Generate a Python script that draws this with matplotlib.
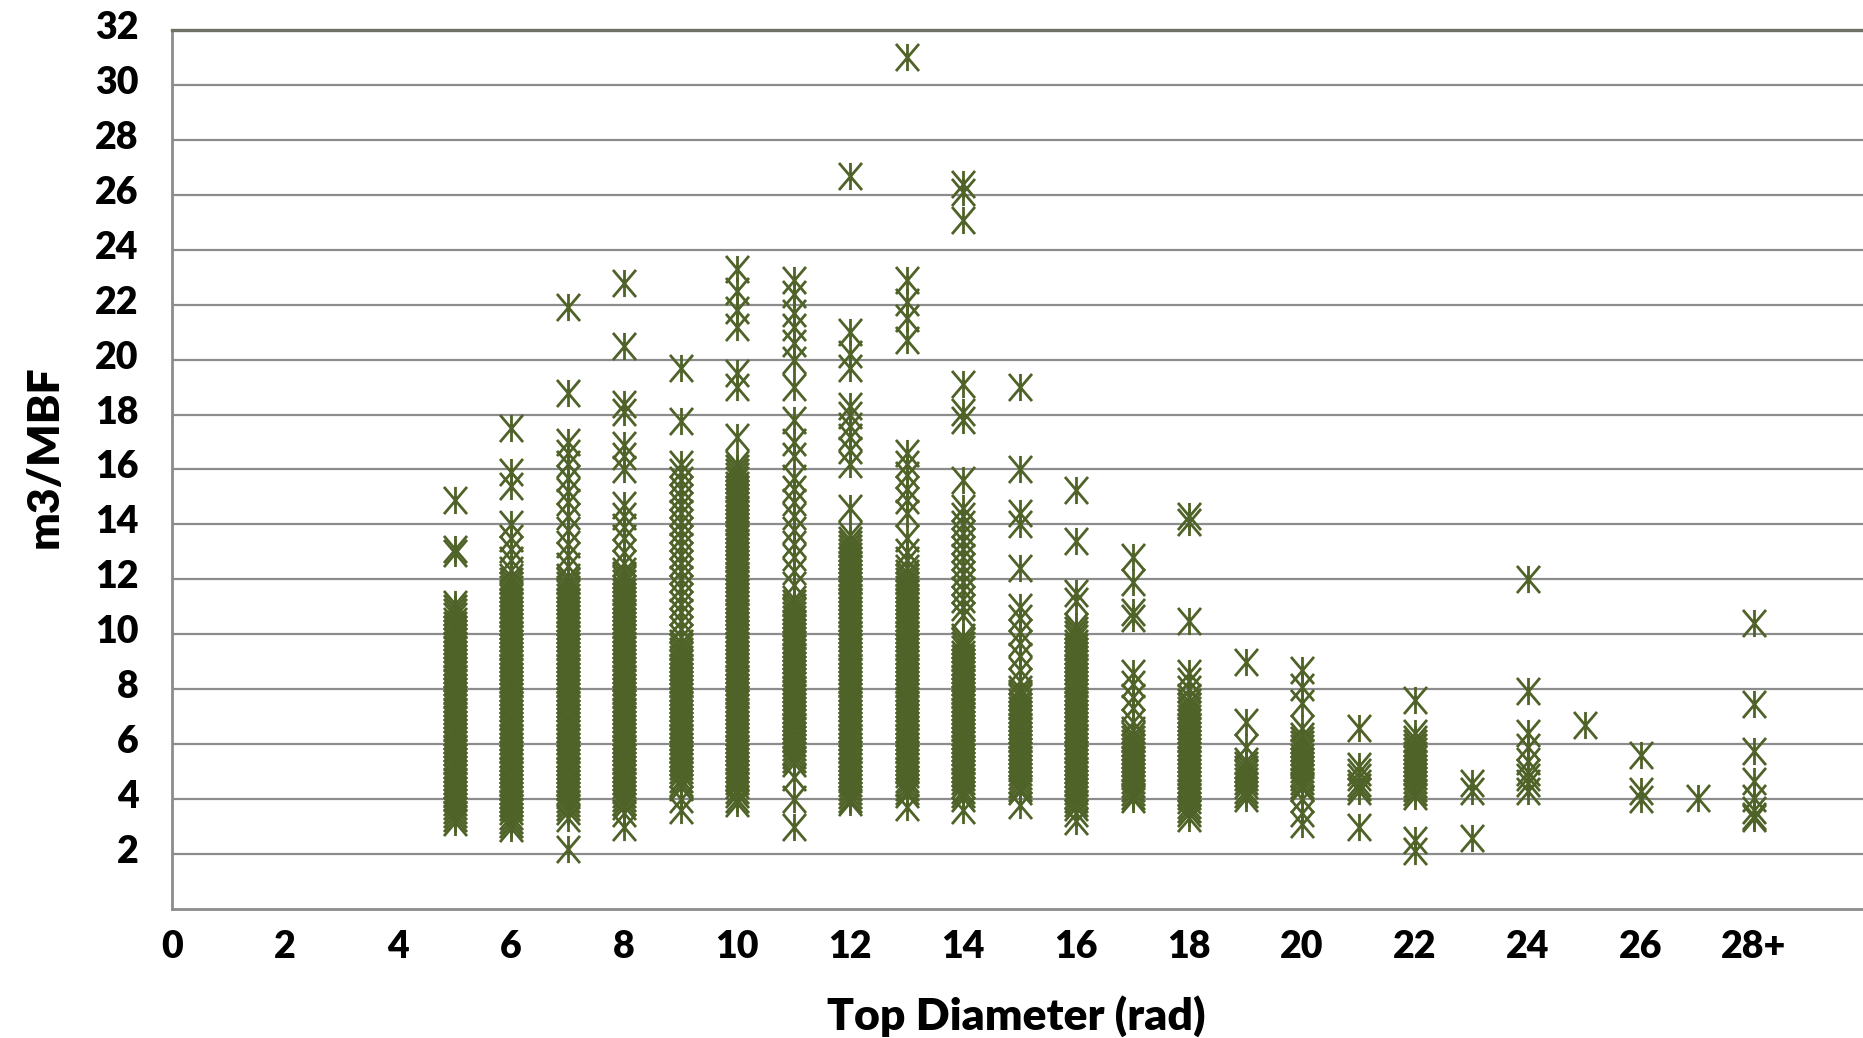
import matplotlib
matplotlib.use("Agg")
import matplotlib.pyplot as plt
from matplotlib.path import Path
import matplotlib.transforms as mtransforms

# ---------------- data ----------------
diameters = [5, 6, 7, 8, 9, 10, 11, 12, 13, 14, 15, 16, 17, 18, 19, 20,
             21, 22, 23, 24, 25, 26, 27, 28]

d5 = [14.9, 13.1, 12.95,
      11.1, 10.95, 10.8, 10.65, 10.5, 10.35, 10.2, 10.05, 9.9, 9.75, 9.6, 9.45, 9.3,
      9.15, 9.0, 8.85, 8.7, 8.55, 8.4, 8.25, 8.1, 7.95, 7.8, 7.65, 7.5, 7.35, 7.2,
      7.05, 6.9, 6.75, 6.6, 6.45, 6.3, 6.15, 6.0, 5.85, 5.7, 5.55, 5.4, 5.25, 5.1,
      4.95, 4.8, 4.65, 4.5, 4.35, 4.2, 4.05, 3.9, 3.75, 3.6, 3.45, 3.3, 3.15]
d6 = [17.5, 15.9, 15.4, 14.0, 13.5, 13.1, 12.7, 12.35,
      12.1, 11.95, 11.8, 11.65, 11.5, 11.35, 11.2, 11.05, 10.9, 10.75, 10.6, 10.45,
      10.3, 10.15, 10.0, 9.85, 9.7, 9.55, 9.4, 9.25, 9.1, 8.95, 8.8, 8.65, 8.5, 8.35,
      8.2, 8.05, 7.9, 7.75, 7.6, 7.45, 7.3, 7.15, 7.0, 6.85, 6.7, 6.55, 6.4, 6.25,
      6.1, 5.95, 5.8, 5.65, 5.5, 5.35, 5.2, 5.05, 4.9, 4.75, 4.6, 4.45, 4.3, 4.15,
      4.0, 3.85, 3.7, 3.55, 3.4, 3.25, 3.1, 2.95]
d7 = [21.9, 18.8, 17.0, 16.6, 16.2, 15.7, 15.2, 14.8, 14.3, 13.8, 13.3, 12.9, 12.5,
      12.1, 11.95, 11.8, 11.65, 11.5, 11.35, 11.2, 11.05, 10.9, 10.75, 10.6, 10.45,
      10.3, 10.15, 10.0, 9.85, 9.7, 9.55, 9.4, 9.25, 9.1, 8.95, 8.8, 8.65, 8.5, 8.35,
      8.2, 8.05, 7.9, 7.75, 7.6, 7.45, 7.3, 7.15, 7.0, 6.85, 6.7, 6.55, 6.4, 6.25,
      6.1, 5.95, 5.8, 5.65, 5.5, 5.35, 5.2, 5.05, 4.9, 4.75, 4.6, 4.45, 4.3, 4.15,
      4.0, 3.85, 3.7, 3.55, 3.3, 2.2]
d8 = [22.8, 20.5, 18.4, 18.1, 16.9, 16.5, 16.0, 14.7, 14.3, 13.9, 13.5, 13.0, 12.6,
      12.3, 12.15, 12.0, 11.85, 11.7, 11.55, 11.4, 11.25, 11.1, 10.95, 10.8, 10.65,
      10.5, 10.35, 10.2, 10.05, 9.9, 9.75, 9.6, 9.45, 9.3, 9.15, 9.0, 8.85, 8.7,
      8.55, 8.4, 8.25, 8.1, 7.95, 7.8, 7.65, 7.5, 7.35, 7.2, 7.05, 6.9, 6.75, 6.6,
      6.45, 6.3, 6.15, 6.0, 5.85, 5.7, 5.55, 5.4, 5.25, 5.1, 4.95, 4.8, 4.65, 4.5,
      4.35, 4.2, 4.05, 3.9, 3.75, 3.5, 3.0]
d9 = [19.7, 17.75, 16.2, 15.9, 15.6, 15.3, 15.0, 14.7, 14.4, 14.1, 13.8, 13.5, 13.2,
      12.9, 12.6, 12.3, 12.0, 11.7, 11.4, 11.1, 10.8, 10.5, 10.2, 9.9,
      9.7, 9.55, 9.4, 9.25, 9.1, 8.95, 8.8, 8.65, 8.5, 8.35, 8.2, 8.05, 7.9, 7.75,
      7.6, 7.45, 7.3, 7.15, 7.0, 6.85, 6.7, 6.55, 6.4, 6.25, 6.1, 5.95, 5.8, 5.65,
      5.5, 5.35, 5.2, 5.05, 4.9, 4.75, 4.6, 4.45, 4.0, 3.6]
d10 = [23.3, 22.5, 21.8, 21.2, 19.5, 19.0, 17.2,
       16.2, 16.05, 15.9, 15.75, 15.6, 15.45, 15.3, 15.15, 15.0, 14.85, 14.7, 14.55,
       14.4, 14.25, 14.1, 13.95, 13.8, 13.65, 13.5, 13.35, 13.2, 13.05, 12.9, 12.75,
       12.6, 12.45, 12.3, 12.15, 12.0, 11.85, 11.7, 11.55, 11.4, 11.25, 11.1, 10.95,
       10.8, 10.65, 10.5, 10.35, 10.2, 10.05, 9.9, 9.75, 9.6, 9.45, 9.3, 9.15, 9.0,
       8.85, 8.7, 8.55, 8.4, 8.25, 8.1, 7.95, 7.8, 7.65, 7.5, 7.35, 7.2, 7.05, 6.9,
       6.75, 6.6, 6.45, 6.3, 6.15, 6.0, 5.85, 5.7, 5.55, 5.4, 5.25, 5.1, 4.95, 4.8,
       4.65, 4.5, 4.35, 4.2, 4.0, 3.85]
d11 = [22.9, 22.4, 21.7, 21.2, 20.6, 20.0, 19.0, 17.8, 17.0, 16.5, 15.7, 15.3, 14.8,
       14.3, 13.8, 13.3, 12.8, 12.3, 11.8,
       11.3, 11.15, 11.0, 10.85, 10.7, 10.55, 10.4, 10.25, 10.1, 9.95, 9.8, 9.65, 9.5,
       9.35, 9.2, 9.05, 8.9, 8.75, 8.6, 8.45, 8.3, 8.15, 8.0, 7.85, 7.7, 7.55, 7.4,
       7.25, 7.1, 6.95, 6.8, 6.65, 6.5, 6.35, 6.2, 6.05, 5.9, 5.75, 5.6, 5.45, 5.3,
       4.8, 4.0, 3.0]
d12 = [26.7, 21.0, 20.2, 19.7, 18.3, 18.0, 17.6, 17.2, 16.7, 16.2, 14.6,
       13.6, 13.45, 13.3, 13.15, 13.0, 12.85, 12.7, 12.55, 12.4, 12.25, 12.1, 11.95,
       11.8, 11.65, 11.5, 11.35, 11.2, 11.05, 10.9, 10.75, 10.6, 10.45, 10.3, 10.15,
       10.0, 9.85, 9.7, 9.55, 9.4, 9.25, 9.1, 8.95, 8.8, 8.65, 8.5, 8.35, 8.2, 8.05,
       7.9, 7.75, 7.6, 7.45, 7.3, 7.15, 7.0, 6.85, 6.7, 6.55, 6.4, 6.25, 6.1, 5.95,
       5.8, 5.65, 5.5, 5.35, 5.2, 5.05, 4.9, 4.75, 4.6, 4.45, 4.3, 4.15, 4.0, 3.9]
d13 = [31.0, 22.9, 22.1, 21.5, 20.7, 16.6, 16.2, 15.8, 15.3, 14.9, 14.4, 13.5, 13.0,
       12.7,
       12.4, 12.25, 12.1, 11.95, 11.8, 11.65, 11.5, 11.35, 11.2, 11.05, 10.9, 10.75,
       10.6, 10.45, 10.3, 10.15, 10.0, 9.85, 9.7, 9.55, 9.4, 9.25, 9.1, 8.95, 8.8,
       8.65, 8.5, 8.35, 8.2, 8.05, 7.9, 7.75, 7.6, 7.45, 7.3, 7.15, 7.0, 6.85, 6.7,
       6.55, 6.4, 6.25, 6.1, 5.95, 5.8, 5.65, 5.5, 5.35, 5.2, 5.05, 4.9, 4.75, 4.6,
       4.45, 4.3, 4.2, 3.7]
d14 = [26.4, 26.1, 25.1, 19.1, 18.1, 17.8, 15.6, 14.6, 14.3, 14.0, 13.7, 13.4, 13.1,
       12.8, 12.5, 12.2, 11.9, 11.6, 11.3, 11.0, 10.7,
       9.9, 9.75, 9.6, 9.45, 9.3, 9.15, 9.0, 8.85, 8.7, 8.55, 8.4, 8.25, 8.1, 7.95,
       7.8, 7.65, 7.5, 7.35, 7.2, 7.05, 6.9, 6.75, 6.6, 6.45, 6.3, 6.15, 6.0, 5.85,
       5.7, 5.55, 5.4, 5.25, 5.1, 4.95, 4.8, 4.65, 4.5, 4.35, 4.2, 4.05, 3.6]
d15 = [19.0, 16.0, 14.4, 14.0, 12.4, 11.0, 10.6, 10.1, 9.7, 9.2, 8.7, 8.3,
       8.0, 7.85, 7.7, 7.55, 7.4, 7.25, 7.1, 6.95, 6.8, 6.65, 6.5, 6.35, 6.2, 6.05,
       5.9, 5.75, 5.6, 5.45, 5.3, 5.15, 5.0, 4.85, 4.7, 4.55, 4.4, 4.3, 3.8]
d16 = [15.25, 13.4, 11.5, 11.2,
       10.3, 10.15, 10.0, 9.85, 9.7, 9.55, 9.4, 9.25, 9.1, 8.95, 8.8, 8.65, 8.5, 8.35,
       8.2, 8.05, 7.9, 7.75, 7.6, 7.45, 7.3, 7.15, 7.0, 6.85, 6.7, 6.55, 6.4, 6.25,
       6.1, 5.95, 5.8, 5.65, 5.5, 5.35, 5.2, 5.05, 4.9, 4.75, 4.6, 4.45, 4.3, 4.15,
       4.0, 3.85, 3.7, 3.5, 3.2]
d17 = [12.8, 11.9, 10.8, 10.6, 8.6, 8.2, 7.7, 7.3, 6.8,
       6.5, 6.35, 6.2, 6.05, 5.9, 5.75, 5.6, 5.45, 5.3, 5.15, 5.0, 4.85, 4.7, 4.55,
       4.4, 4.25, 4.1, 4.0]
d18 = [14.3, 14.1, 10.5, 8.6, 8.3, 8.0,
       7.7, 7.55, 7.4, 7.25, 7.1, 6.95, 6.8, 6.65, 6.5, 6.35, 6.2, 6.05, 5.9, 5.75,
       5.6, 5.45, 5.3, 5.15, 5.0, 4.85, 4.7, 4.55, 4.4, 4.25, 4.1, 3.95, 3.8, 3.65,
       3.5, 3.3]
d19 = [9.0, 6.8, 5.9, 5.4, 5.25, 5.1, 4.95, 4.8, 4.65, 4.5, 4.35, 4.2, 4.05]
d20 = [8.7, 8.1, 7.5, 6.6,
       6.3, 6.15, 6.0, 5.85, 5.7, 5.55, 5.4, 5.25, 5.1, 4.95, 4.8, 4.65, 4.5, 4.4,
       4.0, 3.5, 3.1]
d21 = [6.6, 5.2, 5.0, 4.8, 4.6, 4.45, 4.3, 3.0]
d22 = [7.6, 6.4, 6.2, 6.05, 5.9, 5.75, 5.6, 5.45, 5.3, 5.15, 5.0, 4.85, 4.7, 4.55,
       4.4, 4.25, 4.1, 2.5, 2.1]
d23 = [4.6, 4.3, 2.6]
d24 = [12.0, 7.95, 6.4, 5.9, 5.4, 5.0, 4.8, 4.6, 4.3]
d25 = [6.7]
d26 = [5.6, 4.3, 4.0]
d27 = [4.05]
d28 = [10.4, 7.45, 5.75, 4.65, 4.05, 3.6, 3.4, 3.3]

columns = [d5, d6, d7, d8, d9, d10, d11, d12, d13, d14, d15, d16, d17, d18, d19,
           d20, d21, d22, d23, d24, d25, d26, d27, d28]

x_ticks = [0, 2, 4, 6, 8, 10, 12, 14, 16, 18, 20, 22, 24, 26, 28]
x_tick_labels = ["0", "2", "4", "6", "8", "10", "12", "14", "16", "18", "20", "22",
                 "24", "26", "28+"]
y_ticks = [2, 4, 6, 8, 10, 12, 14, 16, 18, 20, 22, 24, 26, 28, 30, 32]
y_tick_labels = [str(v) for v in y_ticks]

x_title = "Top Diameter (rad)"
y_title = "m3/MBF"

# ---------------- style ----------------
FONT = ["Lato", "DejaVu Sans"]
plt.rcParams["font.family"] = FONT
WEIGHT = "heavy"

W, H = 1863, 1038
fig = plt.figure(figsize=(W / 100, H / 100), dpi=100)
fig.patch.set_facecolor("white")

left_px, bottom_px, top_px = 172, 909, 30
x_max = 30
px_per_unit = 56.5
ax = fig.add_axes([left_px / W, (H - bottom_px) / H,
                   x_max * px_per_unit / W, (bottom_px - top_px) / H])

star = Path([(-0.85, -1), (0.85, 1), (-0.85, 1), (0.85, -1), (0, -1), (0, 1)],
            [Path.MOVETO, Path.LINETO, Path.MOVETO, Path.LINETO, Path.MOVETO, Path.LINETO])
green = "#4F6228"

for d, vals in zip(diameters, columns):
    ax.plot([d] * len(vals), vals, linestyle="none", marker=star, ms=19.5,
            mec=green, mfc="none", mew=2.0, zorder=3)

ax.set_xlim(0, x_max)
ax.set_ylim(0, 32)
ax.set_xticks(x_ticks)
ax.set_xticklabels(x_tick_labels)
ax.set_yticks(y_ticks)
ax.set_yticklabels(y_tick_labels)
ax.tick_params(axis="both", length=0, labelsize=27, colors="black")
ax.tick_params(axis="y", pad=24)
ax.tick_params(axis="x", pad=15)
for lab in ax.get_xticklabels() + ax.get_yticklabels():
    lab.set_fontweight(WEIGHT)
for lab in ax.get_yticklabels():
    lab.set_transform(lab.get_transform() +
                      mtransforms.ScaledTranslation(0, 5 / 100, fig.dpi_scale_trans))

ax.grid(axis="y", color="#8c8c8c", linewidth=1.6, zorder=1)
ax.set_axisbelow(True)
for side in ["left", "bottom"]:
    ax.spines[side].set_color("#8c8c8c")
    ax.spines[side].set_linewidth(2.0)
ax.spines["top"].set_color("#6f6f66")
ax.spines["top"].set_linewidth(2.4)
ax.spines["right"].set_visible(False)

fig.text(1016 / W, 1 - 1016 / H, x_title, ha="center", va="center",
         fontsize=32, fontweight=WEIGHT)
fig.text(45 / W, 1 - 457 / H, y_title, ha="center", va="center",
         rotation=90, fontsize=32, fontweight=WEIGHT)

fig.savefig("out.png", dpi=100, facecolor="white")
